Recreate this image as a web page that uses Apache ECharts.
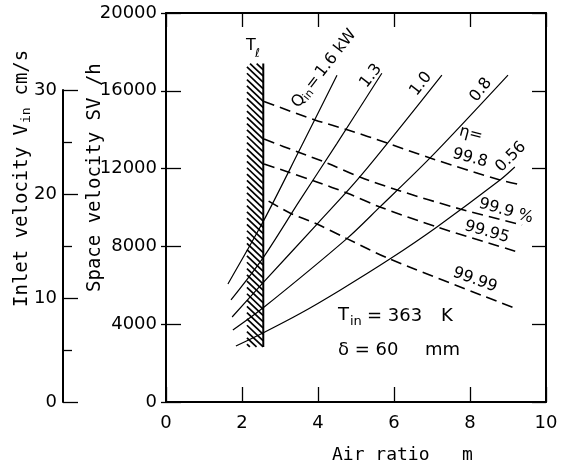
<!DOCTYPE html>
<html><head><meta charset="utf-8">
<script src="https://cdn.jsdelivr.net/npm/echarts@6/dist/echarts.min.js"></script>
<style>html,body{margin:0;padding:0;background:#fff}#c{width:567px;height:468px}</style>
</head><body><div id="c"></div>
<script>
// ---- data ----
const airRatioRange = [0, 10];
const airRatioInterval = 2;
const svRange = [0, 20000];
const svInterval = 4000;
const vinRange = [0, 30];
const vinInterval = 10;

// Q_in curves (air ratio m, SV /h)
const q16  = [[1.63,6070],[2.55,9250],[3.5,12900],[4.5,16800]];
const q13  = [[1.71,5250],[2.55,7400],[3.5,10300],[4.5,13300],[5.68,16900]];
const q10  = [[1.74,4370],[2.55,6120],[4.0,9200],[5.1,11570],[7.26,16810]];
const q08  = [[1.76,3700],[2.55,4830],[4.76,8400],[5.63,10030],[6.95,12550],[9.0,16810]];
const q056 = [[1.84,2880],[2.55,3550],[3.53,4550],[4.58,5750],[5.89,7350],[7.13,9000],[8.79,11410],[9.18,12080]];

// eta curves (dashed)
const e998  = [[2.58,15450],[3.92,14500],[4.79,13985],[5.82,13316],[6.95,12545],[8.79,11414],[9.37,11157]];
const e999  = [[2.58,13520],[3.47,12853],[4.24,12288],[5.1,11568],[6.08,10900],[7.74,9923],[9.37,9100]];
const e9995 = [[2.58,12240],[3.21,11825],[3.97,11311],[4.76,10745],[5.63,10026],[7.13,9000],[9.26,7712]];
const e9999 = [[2.7,10330],[3.26,9720],[3.97,9150],[4.76,8400],[5.89,7350],[9.18,4830]];

// T_l hatched band
const hatchX = [2.13, 2.56];
const hatchY = [2830, 17400];

const FONT = 'DejaVu Sans';
const MONO = 'DejaVu Sans Mono';

const chart = echarts.init(document.getElementById('c'), null, {renderer:'canvas'});

function solid(data){
  return {type:'line', xAxisIndex:0, yAxisIndex:0, data, smooth:0.3, symbol:'none',
    lineStyle:{color:'#000', width:1.2}, z:3, silent:true};
}
function dashed(data){
  return {type:'line', xAxisIndex:0, yAxisIndex:0, data, smooth:0.3, symbol:'none',
    lineStyle:{color:'#000', width:1.6, type:[11,6]}, z:3, silent:true};
}
function txt(text, x, y, size, opts){
  opts = opts || {};
  return {type:'text', x, y, rotation:(opts.rot||0)*Math.PI/180, z:10,
    style:{text, fill:'#000', font:(size)+'px '+(opts.font||FONT),
      textAlign:opts.align||'center', textVerticalAlign:'middle'}};
}
function grp(x, y, rot, children){
  return {type:'group', x, y, rotation:rot*Math.PI/180, z:10, children};
}
function ct(text, x, y, size, font, align){
  return {type:'text', x, y, style:{text, fill:'#000', font:size+'px '+(font||FONT),
    textAlign:align||'left', textVerticalAlign:'middle'}};
}

const axisLine = {show:true, onZero:false, lineStyle:{color:'#000', width:2}};
const tickStyle = {color:'#000', width:1.3};
const plain = v => String(v);

const option = {
  animation:false,
  backgroundColor:'#fff',
  grid:[
    {left:166, top:13, width:380, height:389},
    {left:63, top:90, width:1, height:312}
  ],
  xAxis:[
    {gridIndex:0, type:'value', min:airRatioRange[0], max:airRatioRange[1], interval:airRatioInterval,
     position:'bottom', axisLine, axisTick:{inside:true, length:15, lineStyle:tickStyle},
     axisLabel:{color:'#000', fontSize:18, fontFamily:FONT, margin:12, formatter:plain}, splitLine:{show:false}},
    {gridIndex:0, type:'value', min:airRatioRange[0], max:airRatioRange[1], interval:airRatioInterval,
     position:'top', axisLine, axisTick:{inside:true, length:14, lineStyle:tickStyle},
     axisLabel:{show:false}, splitLine:{show:false}},
    {gridIndex:1, type:'value', min:0, max:1, show:false}
  ],
  yAxis:[
    {gridIndex:0, type:'value', min:svRange[0], max:svRange[1], interval:svInterval, position:'left',
     axisLine, axisTick:{inside:true, length:15, lineStyle:tickStyle},
     axisLabel:{color:'#000', fontSize:18, fontFamily:FONT, margin:9, formatter:plain}, splitLine:{show:false}},
    {gridIndex:0, type:'value', min:svRange[0], max:svRange[1], interval:svInterval, position:'right',
     axisLine, axisTick:{inside:true, length:14, lineStyle:tickStyle},
     axisLabel:{show:false}, splitLine:{show:false}},
    {gridIndex:0, type:'value', min:svRange[0], max:svRange[1], interval:svInterval, position:'left',
     axisLine:{show:false, onZero:false}, axisTick:{inside:false, length:5, lineStyle:tickStyle},
     axisLabel:{show:false}, splitLine:{show:false}},
    {gridIndex:1, type:'value', min:vinRange[0], max:vinRange[1], interval:vinInterval, position:'left',
     axisLine, axisTick:{inside:true, length:15, lineStyle:tickStyle},
     minorTick:{show:true, splitNumber:2, length:9, lineStyle:tickStyle},
     axisLabel:{color:'#000', fontSize:18, fontFamily:FONT, margin:6, formatter:plain}, splitLine:{show:false}}
  ],
  series:[
    {type:'custom', xAxisIndex:0, yAxisIndex:0, silent:true, z:2,
     data:[[hatchX[0], hatchY[0], hatchX[1], hatchY[1]]],
     renderItem:function(params, api){
       const p0 = api.coord([api.value(0), api.value(1)]);
       const p1 = api.coord([api.value(2), api.value(3)]);
       const x0 = p0[0], x1 = p1[0], yb = p0[1], yt = p1[1];
       const w = x1 - x0, k = 0.95, step = 6.3;
       const children = [];
       for (let y = yt - w*k; y < yb; y += step){
         let ax = x0, ay = y, bx = x1, by = y + w*k;
         if (ay < yt){ ax = x0 + (yt-ay)/k; ay = yt; }
         if (by > yb){ bx = x1 - (by-yb)/k; by = yb; }
         if (ax >= bx) continue;
         children.push({type:'line', shape:{x1:ax,y1:ay,x2:bx,y2:by}, style:{stroke:'#000', lineWidth:1.7}});
       }
       children.push({type:'line', shape:{x1:x1,y1:yt,x2:x1,y2:yb}, style:{stroke:'#000', lineWidth:2}});
       return {type:'group', children};
     }},
    solid(q16), solid(q13), solid(q10), solid(q08), solid(q056),
    dashed(e998), dashed(e999), dashed(e9995), dashed(e9999)
  ],
  graphic:[
    // axis titles
    grp(95, 292, 90, [ct('Space velocity SV /h', 0, 0, 19, MONO)]),
    grp(22, 307, 90, [
      ct('Inlet velocity V', 0, 0, 19, MONO),
      ct('in', 184, 5, 13, MONO),
      ct(' cm/s', 200, 0, 19, MONO)
    ]),
    ct('Air ratio   m', 332, 455, 18, MONO),
    // T_l
    ct('T', 246, 46, 16), ct('ℓ', 255, 54, 12),
    // Q_in labels
    grp(295, 106, 52, [
      ct('Q', 0, 0, 16), ct('in', 12, 4, 11), ct('=', 23, 0, 16), ct('1.6 kW', 39, 0, 16)
    ]),
    txt('1.3', 371, 76, 16, {rot:52}),
    txt('1.0', 421, 84, 16, {rot:52}),
    txt('0.8', 481, 90, 16, {rot:52}),
    txt('0.56', 511, 157, 16, {rot:45}),
    txt('η=', 471, 134, 16, {rot:-15}),
    txt('99.8', 470, 158, 16, {rot:-15}),
    txt('99.9 %', 506, 211, 16, {rot:-16}),
    txt('99.95', 487, 232, 16, {rot:-16}),
    txt('99.99', 475, 280, 16, {rot:-20}),
    // conditions
    ct('T', 338, 315, 18), ct('in', 350, 322, 13), ct('= 363', 367, 316, 18), ct('K', 441, 316, 18),
    ct('δ = 60', 338, 350, 18), ct('mm', 425, 350, 18)
  ]
};
chart.setOption(option);
</script>
</body></html>
